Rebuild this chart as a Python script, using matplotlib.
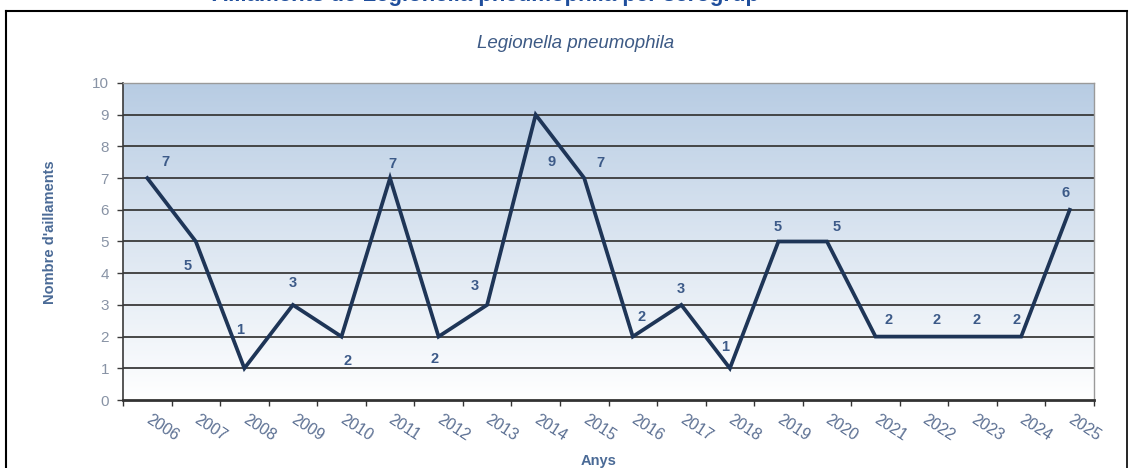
import numpy as np
import matplotlib
matplotlib.use('Agg')
import matplotlib.pyplot as plt
from matplotlib.lines import Line2D

plt.rcParams['font.family'] = ['Liberation Sans', 'DejaVu Sans']

# data
years = ['2006', '2007', '2008', '2009', '2010', '2011', '2012', '2013', '2014', '2015',
         '2016', '2017', '2018', '2019', '2020', '2021', '2022', '2023', '2024', '2025']
counts = [7, 5, 1, 3, 2, 7, 2, 3, 9, 7, 2, 3, 1, 5, 5, 2, 2, 2, 2, 6]

# label offsets in pixels (dx, dy), Excel-style placement
lab_off = [(18, 16), (-8, -25), (-4, 38), (0, 22), (6, -24), (2, 14), (-4, -22), (-12, 19),
           (16, -47), (16, 15), (9, 20), (-1, 16), (-5, 21), (-1, 14), (10, 14), (13, 17),
           (12, 17), (4, 17), (-5, 17), (-4, 17)]

W, H = 1129, 468
fig = plt.figure(figsize=(W/100, H/100), dpi=100)
fig.patch.set_facecolor('white')

# outer frame
fig.add_artist(Line2D([6/W, 6/W], [0, 1-11/H], color='black', lw=1.5, transform=fig.transFigure))
fig.add_artist(Line2D([6/W, 1127/W], [1-11/H, 1-11/H], color='black', lw=1.5, transform=fig.transFigure))
fig.add_artist(Line2D([1127/W, 1127/W], [0, 1-11/H], color='black', lw=1.2, transform=fig.transFigure))

# heading, cut by the top edge as in the source
fig.text(485/W, 1-1.5/H, "Aïllaments de Legionella pneumophila per serogrup", ha='center', va='baseline',
         fontsize=16, fontweight='bold', color='#1f4e9c')

ax = fig.add_axes([123/W, 1-400/H, (1094-123)/W, (400-83)/H])
n = len(years)
ax.set_xlim(0, n)
ax.set_ylim(0, 10)

# gradient background
top = np.array([0.72, 0.80, 0.89])
bot = np.array([1.0, 1.0, 1.0])
t = np.linspace(0, 1, 256)[:, None]
grad = (top*(1-t) + bot*t)[:, None, :]
ax.imshow(grad, extent=[0, n, 0, 10], aspect='auto', zorder=0, interpolation='bilinear')

for v in range(1, 10):
    ax.axhline(v, color='#3a3a3a', lw=1.3, zorder=1)

xs = np.arange(n) + 0.5
ax.plot(xs, counts, color='#1e3557', lw=2.7, zorder=3, solid_joinstyle='miter')

for x, c, (dx, dy) in zip(xs, counts, lab_off):
    ax.annotate(str(c), (x, c), xytext=(dx, dy), textcoords='offset pixels',
                ha='center', va='center', fontsize=10.5, fontweight='bold', color='#3c5a88', zorder=4)

for s in ['top', 'right']:
    ax.spines[s].set_color('#9a9a9a')
    ax.spines[s].set_linewidth(1)
ax.spines['left'].set_color('#3a3a3a')
ax.spines['left'].set_linewidth(1.2)
ax.spines['bottom'].set_color('#333333')
ax.spines['bottom'].set_linewidth(2)

ax.set_yticks(range(0, 11))
ax.tick_params(axis='y', length=4, width=1, color='#3a3a3a', pad=6, labelsize=11, labelcolor='#8893a5')

ax.set_xticks(range(0, n+1))
ax.set_xticklabels([])
ax.set_xticks(xs, minor=True)
ax.set_xticklabels(years, minor=True)
ax.tick_params(axis='x', which='major', length=4, width=1, color='#333333')
ax.tick_params(axis='x', which='minor', length=0, pad=13, labelsize=11.5, labelcolor='#5b6f92')
for lab in ax.get_xticklabels(minor=True):
    lab.set_rotation(-33)
    lab.set_ha('left')
    lab.set_va('center')
    lab.set_rotation_mode('anchor')

fig.text(576/W, 1-43/H, 'Legionella pneumophila', ha='center', va='center',
         fontsize=13.5, style='italic', color='#3d5a85')
fig.text(50/W, 1-232/H, "Nombre d'aillaments", ha='center', va='center', rotation=90,
         fontsize=10.5, fontweight='bold', color='#4a6a96')
fig.text(599/W, 1-461/H, 'Anys', ha='center', va='center',
         fontsize=10.5, fontweight='bold', color='#4a6a96')

fig.savefig('out.png', dpi=100)
